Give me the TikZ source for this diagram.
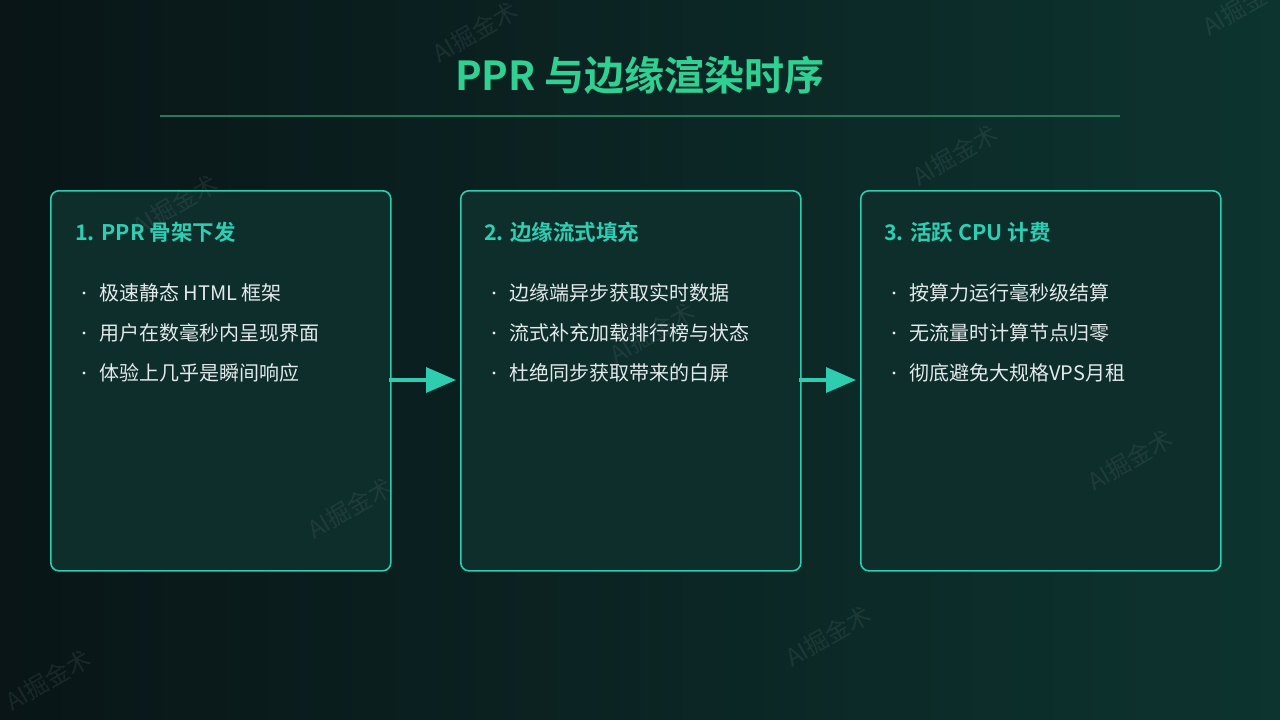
\documentclass[tikz,border=0pt]{standalone}
\usepackage{fontspec}
\setmainfont{Noto Sans CJK SC}
\newfontfamily\cjk{Noto Sans CJK SC}
\newfontfamily\cjkb{Noto Sans CJK SC Bold}
\usetikzlibrary{arrows.meta}
\definecolor{bgL}{RGB}{9,21,23}
\definecolor{bgR}{RGB}{13,52,47}
\definecolor{boxfill}{RGB}{14,46,43}
\definecolor{boxline}{RGB}{46,205,176}
\definecolor{titlec}{RGB}{48,208,146}
\definecolor{headc}{RGB}{46,206,180}
\definecolor{bodyc}{RGB}{226,234,234}
\definecolor{rulec}{RGB}{40,120,90}
\definecolor{wmc}{RGB}{150,170,170}
\tikzset{
  panel/.style={draw=boxline, line width=1.6pt, fill=boxfill, rounded corners=8pt},
  head/.style={anchor=base west, text=headc, font=\cjkb\fontsize{21.5}{26}\selectfont, inner sep=0pt},
  item/.style={anchor=base west, text=bodyc, font=\cjk\fontsize{20}{24}\selectfont, inner sep=0pt},
  dotc/.style={fill=bodyc, circle, inner sep=0pt, minimum size=3.2pt},
  flow/.style={draw=boxline, line width=3.5pt, -{Triangle[length=30pt,width=25pt]}},
  wm/.style={text=wmc, opacity=0.12, font=\cjk\fontsize{24}{28}\selectfont, rotate=30, inner sep=0pt}
}
\begin{document}
\begin{tikzpicture}[x=1pt,y=-1pt]
\useasboundingbox (0,0) rectangle (1280,720);
\shade[left color=bgL, right color=bgR] (0,0) rectangle (1280,720);

% title
\node[text=titlec, font=\cjkb\fontsize{40}{46}\selectfont, inner sep=0pt] (title) at (640,75) {PPR 与边缘渲染时序};
\coordinate (ruleL) at (160,116);
\coordinate (ruleR) at (1120,116);
\draw[rulec, line width=1.5pt] (ruleL) -- (ruleR);

% panels
\node[panel, minimum width=340pt, minimum height=380pt, anchor=north west] (p1) at (50,190) {};
\node[panel, minimum width=340pt, minimum height=380pt, anchor=north west] (p2) at (460,190) {};
\node[panel, minimum width=360pt, minimum height=380pt, anchor=north west] (p3) at (860,190) {};

% panel 1
\node[head] (h1) at (75,240) {1. PPR 骨架下发};
\node[dotc] (d11) at (84,293) {};
\node[item] (t11) at (99,300) {极速静态 HTML 框架};
\node[dotc] (d12) at (84,333) {};
\node[item] (t12) at (99,340) {用户在数毫秒内呈现界面};
\node[dotc] (d13) at (84,373) {};
\node[item] (t13) at (99,380) {体验上几乎是瞬间响应};

% panel 2
\node[head] (h2) at (484,240) {2. 边缘流式填充};
\node[dotc] (d21) at (494,293) {};
\node[item] (t21) at (509,300) {边缘端异步获取实时数据};
\node[dotc] (d22) at (494,333) {};
\node[item] (t22) at (509,340) {流式补充加载排行榜与状态};
\node[dotc] (d23) at (494,373) {};
\node[item] (t23) at (509,380) {杜绝同步获取带来的白屏};

% panel 3
\node[head] (h3) at (884,240) {3. 活跃 CPU 计费};
\node[dotc] (d31) at (894,293) {};
\node[item] (t31) at (909,300) {按算力运行毫秒级结算};
\node[dotc] (d32) at (894,333) {};
\node[item] (t32) at (909,340) {无流量时计算节点归零};
\node[dotc] (d33) at (894,373) {};
\node[item] (t33) at (909,380) {彻底避免大规格VPS月租};

% arrows
\draw[flow] ([yshift=-190pt,xshift=-3pt]p1.north east) -- ([yshift=-190pt,xshift=-4pt]p2.north west);
\draw[flow] ([yshift=-190pt,xshift=-3pt]p2.north east) -- ([yshift=-190pt,xshift=-4pt]p3.north west);

% watermarks (on top)
\foreach \x/\y/\n in {475/32/a,175/205/b,955/155/c,652/333/d,350/508/e,1130/460/f,828/636/g,48/680/h,1245/5/i}
  \node[wm] (wm\n) at (\x,\y) {AI掘金术};
\end{tikzpicture}
\end{document}
